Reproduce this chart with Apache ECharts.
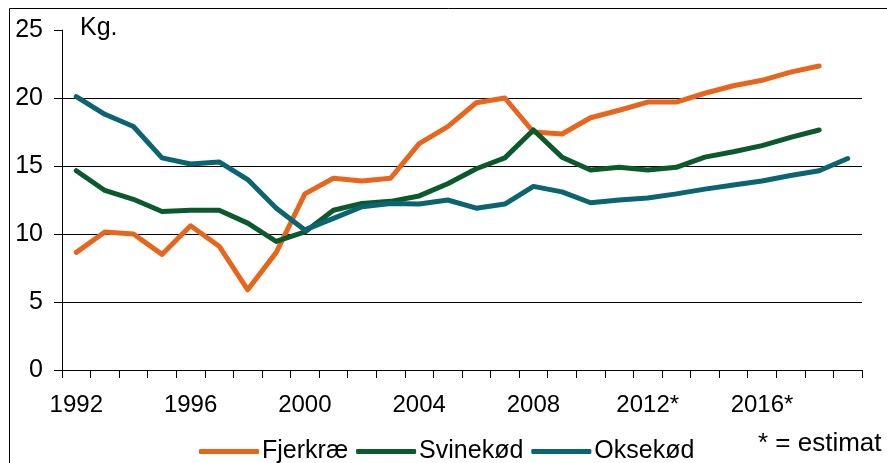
<!DOCTYPE html>
<html>
<head>
<meta charset="utf-8">
<script src="https://cdn.jsdelivr.net/npm/echarts@6/dist/echarts.min.js"></script>
<style>
html, body { margin: 0; padding: 0; background: #fff; }
#main { width: 887px; height: 463px; }
</style>
</head>
<body>
<div id="main"></div>
<script type="text/javascript">
// årstal 1992-2019
var years = ['1992','1993','1994','1995','1996','1997','1998','1999','2000','2001',
	'2002','2003','2004','2005','2006','2007','2008','2009','2010','2011',
	'2012','2013','2014','2015','2016','2017','2018','2019'];
var estimatFra = 2012;

var fjerkrae = [8.65, 10.15, 10.0, 8.5, 10.6, 9.1, 5.9, 8.65, 12.95, 14.1,
	13.9, 14.1, 16.65, 17.9, 19.65, 20.0, 17.5, 17.35, 18.55, 19.1,
	19.7, 19.7, 20.35, 20.9, 21.3, 21.9, 22.35, null];
var svinekoed = [14.65, 13.2, 12.55, 11.65, 11.75, 11.75, 10.8, 9.45, 10.15, 11.75,
	12.25, 12.4, 12.8, 13.7, 14.8, 15.6, 17.65, 15.65, 14.7, 14.9,
	14.7, 14.9, 15.65, 16.05, 16.5, 17.1, 17.65, null];
var oksekoed = [20.1, 18.8, 17.9, 15.6, 15.15, 15.3, 14.0, 11.9, 10.3, 11.15,
	12.0, 12.25, 12.2, 12.5, 11.9, 12.2, 13.5, 13.1, 12.3, 12.5,
	12.65, 12.95, 13.3, 13.6, 13.9, 14.3, 14.65, 15.55];

var yTicks = [0, 5, 10, 15, 20, 25];

var myChart = echarts.init(document.getElementById('main'));

function linje(navn, farve, data){
	return {
		name: navn,
		type: 'line',
		data: data,
		showSymbol: false,
		symbol: 'none',
		connectNulls: false,
		lineStyle: { color: farve, width: 5, cap: 'round', join: 'round' },
		itemStyle: { color: farve },
		animation: false
	};
}

var option = {
	animation: false,
	textStyle: { fontFamily: 'Liberation Sans, Arial, sans-serif' },
	grid: { left: 62, right: 25, top: 30, bottom: 93 },
	legend: {
		left: 194,
		top: 434,
		icon: 'roundRect',
		itemWidth: 60,
		itemHeight: 5,
		itemGap: 8,
		textStyle: { fontSize: 25, color: '#000', padding: [0, 0, 0, -2] },
		data: ['Fjerkræ', 'Svinekød', 'Oksekød']
	},
	xAxis: {
		type: 'category',
		boundaryGap: true,
		data: years,
		axisLine: { lineStyle: { color: '#000', width: 1 } },
		axisTick: { show: true, interval: 0, length: 8, lineStyle: { color: '#000' } },
		axisLabel: {
			interval: 3,
			margin: 23,
			fontSize: 24,
			color: '#000',
			formatter: function(v){ return (+v >= estimatFra) ? v + '*' : v; }
		},
		splitLine: { show: false }
	},
	yAxis: {
		type: 'value',
		min: yTicks[0],
		max: yTicks[yTicks.length - 1],
		interval: 5,
		axisLine: { show: true, lineStyle: { color: '#000', width: 1 } },
		axisTick: { show: true, length: 8, lineStyle: { color: '#000' } },
		axisLabel: { fontSize: 25, color: '#000', margin: 19 },
		splitLine: { show: true, showMaxLine: false, lineStyle: { color: '#000', width: 1 } }
	},
	graphic: [
		{
			type: 'rect',
			shape: { x: 9.5, y: 8.5, width: 900, height: 500 },
			style: { fill: 'none', stroke: '#000', lineWidth: 1 },
			silent: true, z: -1
		},
		{
			type: 'text',
			left: 80, top: 16,
			style: { text: 'Kg.', fontSize: 25, fill: '#000', fontFamily: 'Liberation Sans, Arial, sans-serif' }
		},
		{
			type: 'text',
			left: 758, top: 431,
			style: { text: '* = estimat', fontSize: 26, fill: '#000', fontFamily: 'Liberation Sans, Arial, sans-serif' }
		}
	],
	series: [
		linje('Fjerkræ', '#E8661C', fjerkrae),
		linje('Svinekød', '#0B5A2C', svinekoed),
		linje('Oksekød', '#0A6472', oksekoed)
	]
};

myChart.setOption(option);
</script>
</body>
</html>
